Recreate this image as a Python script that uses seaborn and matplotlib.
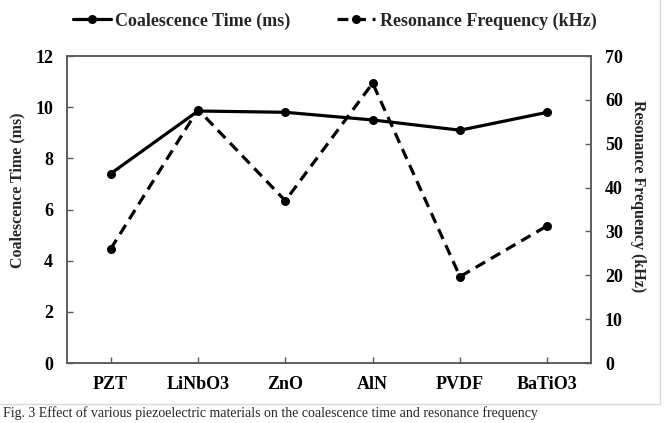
import matplotlib
matplotlib.use("Agg")
from matplotlib import pyplot as plt
import seaborn as sns

# data
materials = ["PZT", "LiNbO3", "ZnO", "AlN", "PVDF", "BaTiO3"]
coalescence_time = [7.4, 9.85, 9.8, 9.5, 9.1, 9.8]      # ms
resonance_freq = [26.0, 57.8, 37.0, 63.8, 19.7, 31.3]    # kHz

sns.set_style("white")
plt.rcParams["font.family"] = ["Liberation Serif", "DejaVu Serif"]
plt.rcParams["font.weight"] = "bold"

spine_col = "#595959"

fig = plt.figure(figsize=(6.69, 4.23), dpi=100)
ax = fig.add_axes([0.1001, 0.1418, 0.7833, 0.7258])
ax2 = ax.twinx()

sns.lineplot(x=materials, y=coalescence_time, ax=ax, color="black", lw=2.3,
             marker="o", markersize=6.5, markeredgewidth=0, sort=False,
             label="Coalescence Time (ms)", legend=False)
sns.lineplot(x=materials, y=resonance_freq, ax=ax2, color="black", lw=2.3,
             marker="o", markersize=6.5, markeredgewidth=0, sort=False,
             label="Resonance Frequency (kHz)", legend=False)
ax2.lines[0].set_dashes((3.4, 2.1))

ax.set_xlim(-0.5, 5.5)
ax.set_ylim(0, 12)
ax.set_yticks(range(0, 13, 2))
ax2.set_ylim(0, 70)
ax2.set_yticks(range(0, 71, 10))

for a in (ax, ax2):
    for s in a.spines.values():
        s.set_color(spine_col)
        s.set_linewidth(1.1)
    a.tick_params(direction="in", length=4, width=1, color=spine_col,
                  labelsize=13, pad=10, labelcolor="black")
ax.tick_params(axis="y", left=True, right=False)
ax.tick_params(axis="x", bottom=True, pad=9)
ax2.tick_params(axis="y", right=True, left=False)
for lab in ax.get_xticklabels() + ax.get_yticklabels() + ax2.get_yticklabels():
    lab.set_fontweight("bold")

ax.set_xlabel("")
ax.set_ylabel("Coalescence Time (ms)", fontsize=11.5, fontweight="bold", va="center")
ax.yaxis.set_label_coords(-0.094, 0.563)
ax2.set_ylabel("Resonance Frequency (kHz)", fontsize=11.5, fontweight="bold",
               rotation=270, va="center")
ax2.yaxis.set_label_coords(1.09, 0.544)

handles = ax.get_lines()[:1] + ax2.get_lines()[:1]
fig.legend(handles, [h.get_label() for h in handles], loc="center",
           bbox_to_anchor=(0.5, 0.95), ncol=2, frameon=False,
           prop={"size": 13, "weight": "bold"}, handlelength=2.1,
           handletextpad=0.25, columnspacing=2.6)

# chart border and the caption line below it
fig.add_artist(plt.Line2D([0, 660 / 669], [1 - 404 / 423] * 2,
                          transform=fig.transFigure, color="#d9d9d9", lw=1))
fig.add_artist(plt.Line2D([660 / 669] * 2, [1 - 404 / 423, 1],
                          transform=fig.transFigure, color="#d9d9d9", lw=1))
fig.text(0.005, 0.006, "Fig. 3 Effect of various piezoelectric materials on the coalescence time and resonance frequency",
         fontsize=10, fontweight="normal", va="bottom", ha="left")

fig.savefig("out.png", dpi=100)
